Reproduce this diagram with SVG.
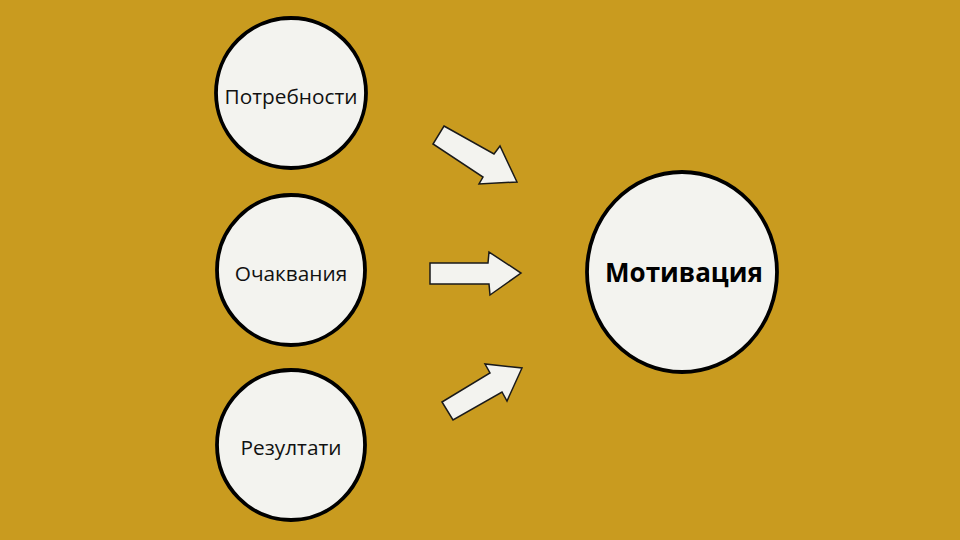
<svg xmlns="http://www.w3.org/2000/svg" width="960" height="540" viewBox="0 0 960 540">
<style>
.node{fill:#F3F3EF;stroke:#000;stroke-width:3.8}
.arrow{fill:#F3F3EF;stroke:#1a1a1a;stroke-width:1.5;stroke-linejoin:miter}
.lbl{font-family:"Open Sans","Noto Sans","Liberation Sans",sans-serif;font-size:20.8px;fill:#111;text-anchor:middle}
.big{font-family:"Open Sans","Noto Sans","Liberation Sans",sans-serif;font-size:26px;font-weight:bold;fill:#000;text-anchor:middle}
</style>
<rect width="960" height="540" fill="#C99B1F"/>
<g id="connectors">
<polygon class="arrow" points="444,126 494,154 500,146 517,182 479,184 483,177 433,144"/>
<polygon class="arrow" points="430,263 488,263 489,252 521,273 490,295 489,284 430,284"/>
<polygon class="arrow" points="442,402 490,373 485,364 522,368 507,401 502,392 453,420"/>
</g>
<g id="node-needs">
<ellipse class="node" cx="291" cy="93" rx="75" ry="75"/>
<text class="lbl" x="291" y="104">Потребности</text>
</g>
<g id="node-expectations">
<ellipse class="node" cx="291" cy="270" rx="74" ry="75"/>
<text class="lbl" x="291" y="281">Очаквания</text>
</g>
<g id="node-results">
<ellipse class="node" cx="291" cy="445" rx="74" ry="75"/>
<text class="lbl" x="291" y="455">Резултати</text>
</g>
<g id="node-motivation">
<ellipse class="node" cx="682" cy="272" rx="95" ry="100"/>
<text class="big" x="684" y="282">Мотивация</text>
</g>
</svg>
